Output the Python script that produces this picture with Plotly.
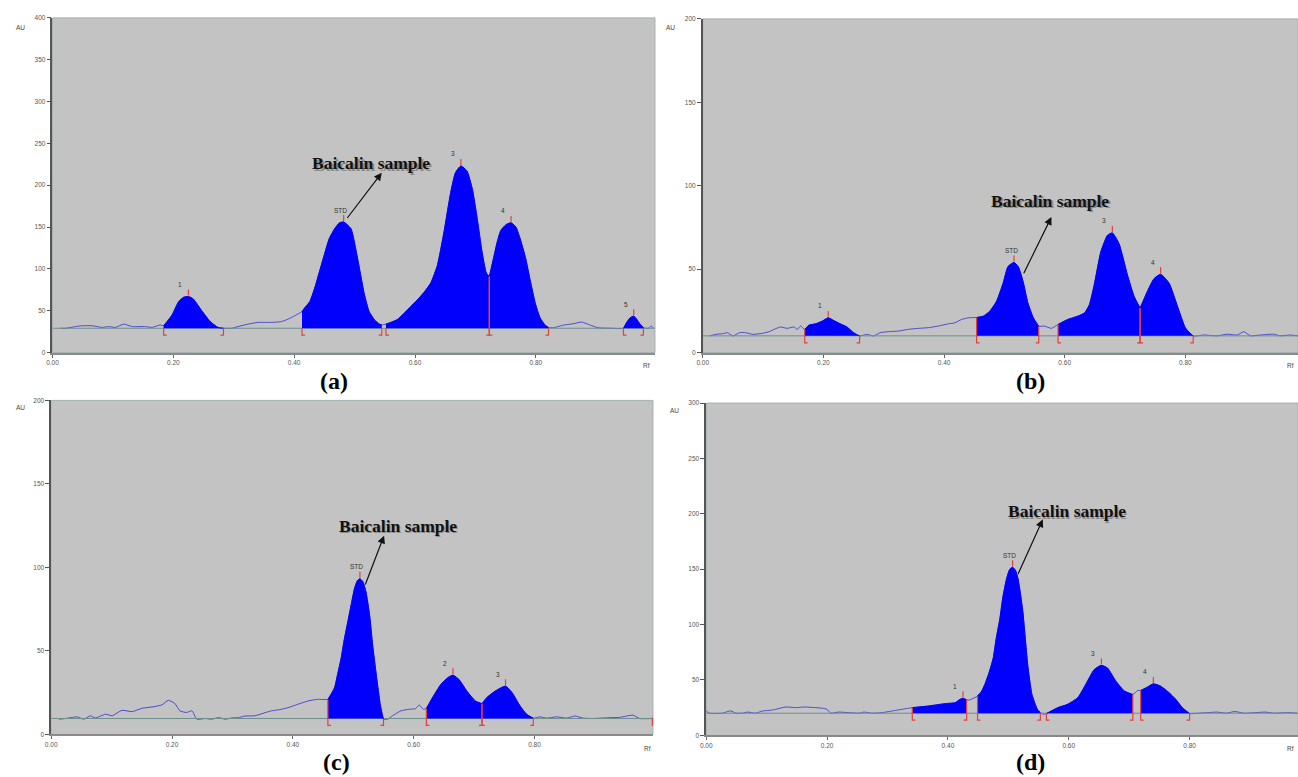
import numpy as np
import plotly.graph_objects as go

# ---------------- data (Rf, AU) ----------------
a_rf = [0.014, 0.022, 0.038, 0.049, 0.066, 0.082, 0.093, 0.104, 0.118, 0.132, 0.154, 0.165, 0.178, 0.184,
        0.198, 0.209, 0.217, 0.225, 0.233, 0.247, 0.261, 0.274, 0.283, 0.297, 0.307, 0.324, 0.340, 0.362,
        0.379, 0.390, 0.401, 0.413, 0.417, 0.426, 0.434, 0.442, 0.450, 0.458, 0.467, 0.475, 0.482, 0.494,
        0.505, 0.516, 0.524, 0.533, 0.541, 0.545, 0.552, 0.560, 0.571, 0.582, 0.593, 0.604, 0.615, 0.626,
        0.637, 0.648, 0.659, 0.667, 0.676, 0.686, 0.695, 0.703, 0.711, 0.718, 0.723, 0.730, 0.736, 0.742,
        0.751, 0.759, 0.767, 0.774, 0.783, 0.791, 0.799, 0.807, 0.815, 0.821, 0.829, 0.846, 0.862, 0.876,
        0.890, 0.903, 0.925, 0.945, 0.950, 0.956, 0.962, 0.966, 0.972, 0.978, 0.986, 0.991, 0.995]
a_au = [29, 29, 31, 32, 32, 30, 31, 30, 34, 31, 31, 30, 33, 32,
        45, 61, 66, 67, 64, 50, 37, 30, 29, 29, 31, 34, 36, 36,
        37, 40, 44, 49, 53, 61, 77, 97, 117, 136, 148, 155, 156, 148,
        112, 70, 49, 39, 34, 33, 34, 36, 39.5, 47, 55, 63, 72, 83,
        104, 144, 191, 215, 223, 217, 195, 160, 120, 95, 91, 113, 132, 146,
        153, 155, 150, 136, 113, 85, 59, 41.5, 33, 30, 29.6, 32.8, 34.4, 36.4,
        32.8, 29.6, 29, 29, 35.5, 41.5, 43.5, 40.7, 34.4, 29.6, 29, 31.6, 29]
a_baseline = 29
a_peak_names = ["1", "STD", "3", "4", "5"]
a_peak_start = [0.184, 0.413, 0.552, 0.723, 0.945]
a_peak_end = [0.283, 0.545, 0.723, 0.821, 0.978]

b_rf = [0.011, 0.022, 0.033, 0.041, 0.050, 0.061, 0.071, 0.083, 0.099, 0.110, 0.121, 0.129, 0.140, 0.151,
        0.157, 0.162, 0.169, 0.176, 0.187, 0.198, 0.208, 0.217, 0.228, 0.239, 0.250, 0.260, 0.272, 0.283,
        0.294, 0.308, 0.325, 0.341, 0.358, 0.374, 0.391, 0.407, 0.418, 0.429, 0.440, 0.454, 0.465, 0.476,
        0.487, 0.498, 0.506, 0.516, 0.523, 0.531, 0.539, 0.548, 0.557, 0.567, 0.578, 0.589, 0.605, 0.622,
        0.633, 0.641, 0.649, 0.660, 0.671, 0.679, 0.690, 0.704, 0.715, 0.725, 0.737, 0.748, 0.759, 0.773,
        0.787, 0.800, 0.813, 0.831, 0.853, 0.869, 0.886, 0.897, 0.908, 0.924, 0.946, 0.957, 0.974, 0.987]
b_au = [9.9, 10.9, 11.3, 11.9, 9.9, 11.9, 11.9, 10.9, 11.5, 12.5, 14.3, 15.3, 14.5, 15.3,
        13.9, 15.9, 13.9, 16.4, 17.2, 18.8, 20.8, 19.2, 17.2, 15.3, 11.9, 9.9, 10.9, 9.9,
        11.9, 12.5, 12.9, 13.9, 14.5, 14.9, 15.9, 17.2, 17.8, 19.8, 20.8, 21.0, 21.8, 24.8,
        30.7, 41.6, 51.5, 54.0, 51.5, 42.6, 29.7, 20.8, 15.8, 15.8, 14.5, 16.8, 19.8, 21.8,
        23.8, 28.7, 40.6, 60.4, 70.3, 71.7, 65.3, 46.5, 33.7, 26.7, 36.6, 44.2, 46.9, 41.6,
        27.7, 14.8, 9.9, 10.5, 10.0, 11.0, 10.5, 12.5, 10.0, 10.5, 11.0, 10.0, 10.5, 10.0]
b_baseline = 10
b_peak_names = ["1", "STD", "3", "4"]
b_peak_start = [0.169, 0.454, 0.589, 0.725]
b_peak_end = [0.260, 0.557, 0.725, 0.813]

c_rf = [0.013, 0.024, 0.035, 0.043, 0.054, 0.065, 0.073, 0.090, 0.101, 0.117, 0.134, 0.150, 0.167, 0.183,
        0.194, 0.205, 0.213, 0.224, 0.233, 0.241, 0.255, 0.266, 0.277, 0.288, 0.299, 0.310, 0.321, 0.337,
        0.354, 0.365, 0.381, 0.392, 0.408, 0.425, 0.441, 0.458, 0.463, 0.469, 0.474, 0.480, 0.485, 0.491,
        0.497, 0.502, 0.507, 0.511, 0.516, 0.521, 0.527, 0.532, 0.538, 0.545, 0.550, 0.557, 0.565, 0.579,
        0.592, 0.603, 0.609, 0.616, 0.621, 0.628, 0.636, 0.645, 0.656, 0.665, 0.675, 0.688, 0.702, 0.713,
        0.721, 0.735, 0.752, 0.763, 0.776, 0.787, 0.798, 0.809, 0.820, 0.837, 0.853, 0.867, 0.881, 0.897,
        0.919, 0.941, 0.963, 0.974, 0.995]
c_au = [9.1, 9.5, 10.1, 10.5, 9.1, 11.1, 9.8, 12.1, 11.1, 14.4, 13.6, 15.6, 16.4, 17.6,
        20.4, 18.4, 14.1, 13.1, 14.1, 9.1, 9.5, 9.1, 10.0, 9.1, 9.8, 10.0, 11.0, 11.1,
        13.0, 14.1, 15.0, 16.0, 18.0, 20.0, 21.0, 21.0, 23.9, 27.9, 35.8, 45.7, 56.6, 67.5,
        78.4, 87.3, 92.2, 93.2, 91.3, 85.3, 71.4, 53.6, 35.8, 17.0, 9.1, 9.1, 11.1, 14.1,
        15.0, 15.4, 17.6, 15.0, 15.6, 20.0, 24.9, 29.9, 33.8, 35.4, 32.8, 25.9, 20.0, 18.4,
        22.0, 25.9, 28.9, 24.9, 17.0, 12.0, 9.7, 10.5, 9.7, 10.5, 9.7, 11.0, 9.7, 9.5,
        9.9, 10.2, 11.5, 9.5, 9.5]
c_baseline = 9.5
c_peak_names = ["STD", "2", "3"]
c_peak_start = [0.458, 0.621, 0.713]
c_peak_end = [0.550, 0.713, 0.798]
c_open_start = [0.995]

d_rf = [0.000, 0.005, 0.027, 0.035, 0.041, 0.049, 0.060, 0.068, 0.082, 0.093, 0.104, 0.115, 0.131, 0.148,
        0.164, 0.181, 0.192, 0.200, 0.206, 0.219, 0.236, 0.252, 0.261, 0.274, 0.291, 0.313, 0.335, 0.341,
        0.368, 0.395, 0.412, 0.420, 0.425, 0.431, 0.436, 0.449, 0.456, 0.461, 0.468, 0.475, 0.480, 0.486,
        0.491, 0.497, 0.502, 0.507, 0.512, 0.516, 0.520, 0.524, 0.528, 0.532, 0.539, 0.548, 0.553, 0.558,
        0.563, 0.582, 0.598, 0.615, 0.628, 0.642, 0.654, 0.664, 0.678, 0.692, 0.706, 0.714, 0.719, 0.730,
        0.740, 0.752, 0.766, 0.777, 0.788, 0.800, 0.815, 0.830, 0.845, 0.860, 0.875, 0.890, 0.910, 0.925,
        0.940, 0.960, 0.978]
d_au = [22, 20, 20, 21.5, 22, 20, 20, 21, 20, 22, 22.5, 23.5, 25.6, 25,
        25.6, 25, 24.5, 23.5, 20, 21, 20.5, 20, 21, 20, 20.5, 22.5, 24.5, 25,
        26.5, 28.6, 29.5, 32.5, 33.5, 32, 32, 35.5, 40, 45.9, 56.4, 69.8, 87.7, 105.5,
        125, 141.3, 149.6, 151.8, 148.8, 141.3, 127.9, 111.5, 87.7, 63.8, 36.9, 23.5, 20.6, 19,
        19.7, 25, 28, 34, 45.9, 59.3, 63.2, 60.8, 48.9, 40, 36.9, 40.5, 40.5, 43.5,
        46.5, 44.4, 38.5, 32.5, 25, 19.7, 20, 20.5, 21, 20, 21.5, 20, 20.5, 21,
        20, 20.5, 20]
d_baseline = 20
d_peak_names = ["1", "STD", "3", "4"]
d_peak_start = [0.341, 0.449, 0.563, 0.719]
d_peak_end = [0.431, 0.553, 0.706, 0.800]

x_tick_vals = [0.0, 0.2, 0.4, 0.6, 0.8]
x_tick_text = ["0.00", "0.20", "0.40", "0.60", "0.80"]
panel_labels = ["(a)", "(b)", "(c)", "(d)"]
note_text = "Baicalin sample"

# ---------------- styling / layout ----------------
W, H = 1298, 777
FILL = "#0000fc"
LINE = "#4a4ad6"
BASE = "#6e8e8e"
RED = "#e4413a"
BG = "#c3c3c3"
SERIF = "Liberation Serif"
SANS = "Liberation Sans"

panels = [
    dict(rf=a_rf, au=a_au, base=a_baseline, names=a_peak_names, starts=a_peak_start, ends=a_peak_end,
         open_starts=[], box=(46.7, 652, 14, 351.7), xmax=0.9972, ymax=400, full=False,
         label_xy=(330, 380), au_xy=(15, 24), rf_xy=(643, 365),
         arrow_tail=(0.486, 159), arrow_head=(0.545, 215), note_xy=(0.528, 226)),
    dict(rf=b_rf, au=b_au, base=b_baseline, names=b_peak_names, starts=b_peak_start, ends=b_peak_end,
         open_starts=[], box=(700, 1298, 15, 351.7), xmax=0.9868, ymax=200, full=True,
         label_xy=(1029, 380), au_xy=(668, 24), rf_xy=(1296, 365),
         arrow_tail=(0.531, 46.6), arrow_head=(0.578, 81.2), note_xy=(0.576, 91)),
    dict(rf=c_rf, au=c_au, base=c_baseline, names=c_peak_names, starts=c_peak_start, ends=c_peak_end,
         open_starts=c_open_start, box=(45.4, 650, 400, 737), xmax=0.9961, ymax=200, full=True,
         label_xy=(332, 765), au_xy=(15, 407), rf_xy=(644, 751),
         arrow_tail=(0.519, 88.9), arrow_head=(0.551, 119), note_xy=(0.574, 124.9)),
    dict(rf=d_rf, au=d_au, base=d_baseline, names=d_peak_names, starts=d_peak_start, ends=d_peak_end,
         open_starts=[], box=(703.5, 1298, 402.7, 738), xmax=0.9794, ymax=300, full=True,
         label_xy=(1029, 765), au_xy=(672, 410), rf_xy=(1296, 751),
         arrow_tail=(0.515, 144.3), arrow_head=(0.557, 195), note_xy=(0.597, 202.4)),
]

fig = go.Figure()
annotations = []
shapes = []
layout_axes = {}

for i, p in enumerate(panels):
    sfx = "" if i == 0 else str(i + 1)
    xa, ya = "x" + sfx, "y" + sfx
    rf = np.array(p["rf"], dtype=float)
    au = np.array(p["au"], dtype=float)
    assert len(rf) == len(au)
    base = p["base"]
    l, r, t, b = p["box"]
    ppr = (r - l) / p["xmax"]      # pixels per Rf unit
    ppa = (b - t) / p["ymax"]      # pixels per AU unit

    def val_at(x):
        return au[int(np.argmin(np.abs(rf - x)))]

    # full densitogram trace
    fig.add_trace(go.Scatter(x=rf, y=au, mode="lines", xaxis=xa, yaxis=ya, hoverinfo="skip",
                             line=dict(color=LINE, width=1, shape="spline", smoothing=0.5)))
    # baseline
    fig.add_trace(go.Scatter(x=[0, p["xmax"]], y=[base, base], mode="lines", xaxis=xa, yaxis=ya,
                             hoverinfo="skip", line=dict(color=BASE, width=1)))
    # integrated peaks
    tops = []
    for s, e in zip(p["starts"], p["ends"]):
        m = (rf >= s - 1e-9) & (rf <= e + 1e-9)
        fig.add_trace(go.Scatter(x=[s, e], y=[base, base], mode="lines", xaxis=xa, yaxis=ya,
                                 hoverinfo="skip", line=dict(width=0, color=FILL)))
        fig.add_trace(go.Scatter(x=rf[m], y=au[m], mode="lines", fill="tonexty", fillcolor=FILL,
                                 xaxis=xa, yaxis=ya, hoverinfo="skip",
                                 line=dict(color=FILL, width=1, shape="spline", smoothing=0.5)))
        k = int(np.argmax(au[m]))
        tops.append((rf[m][k], au[m][k]))

    # red integration marks
    Lm = 7 / ppa
    Fm = 3 / ppr
    mx, my = [], []
    shared = set(p["starts"]) & set(p["ends"])
    for s in p["starts"]:
        top = val_at(s) if (p["full"] or s in shared) else base
        mx += [s, s, s + Fm, None]
        my += [top, base - Lm, base - Lm, None]
    for s in p["open_starts"]:
        mx += [s, s, s + Fm, None]
        my += [base + 1 / ppa, base - Lm, base - Lm, None]
    for e in p["ends"]:
        top = val_at(e) if (p["full"] or e in shared) else base
        mx += [e, e, e - Fm, None]
        my += [top, base - Lm, base - Lm, None]
    for (xt, yt) in tops:
        mx += [xt, xt, None]
        my += [yt + 1 / ppa, yt + 7 / ppa, None]
    fig.add_trace(go.Scatter(x=mx, y=my, mode="lines", xaxis=xa, yaxis=ya, hoverinfo="skip",
                             line=dict(color=RED, width=1.2)))

    # peak labels
    for name, (xt, yt) in zip(p["names"], tops):
        annotations.append(dict(x=xt, y=yt, xref=xa, yref=ya, text=name, showarrow=False,
                                xanchor="center", yanchor="middle",
                                xshift=-3 if name == "STD" else -8, yshift=12,
                                font=dict(size=6.5, color="#333", family=SANS)))

    # Baicalin sample note with arrow (shadow + text)
    nx, ny = p["note_xy"]
    annotations.append(dict(x=nx, y=ny, xref=xa, yref=ya, text="<b>%s</b>" % note_text, showarrow=False,
                            xanchor="center", yanchor="middle", xshift=1.5, yshift=-1.5,
                            font=dict(size=17.5, color="rgba(90,90,90,0.55)", family=SERIF)))
    annotations.append(dict(x=nx, y=ny, xref=xa, yref=ya, text="<b>%s</b>" % note_text, showarrow=False,
                            xanchor="center", yanchor="middle",
                            font=dict(size=17.5, color="#111", family=SERIF)))
    hx, hy = p["arrow_head"]
    tx, ty = p["arrow_tail"]
    annotations.append(dict(x=hx, y=hy, xref=xa, yref=ya, ax=tx, ay=ty, axref=xa, ayref=ya,
                            text="", showarrow=True, arrowhead=2, arrowsize=1.3, arrowwidth=1.2,
                            arrowcolor="#111", standoff=0, startstandoff=0))

    # panel letter, AU and Rf labels
    lx, ly = p["label_xy"]
    annotations.append(dict(x=lx / W, y=1 - ly / H, xref="paper", yref="paper", showarrow=False,
                            xanchor="center", yanchor="middle",
                            text="<b>%s</b>" % panel_labels[i],
                            font=dict(size=24, color="#000", family=SERIF)))
    ux, uy = p["au_xy"]
    annotations.append(dict(x=ux / W, y=1 - uy / H, xref="paper", yref="paper", showarrow=False,
                            xanchor="center", yanchor="middle",
                            text="AU", font=dict(size=6.5, color="#444", family=SANS)))
    rx, ry = p["rf_xy"]
    annotations.append(dict(x=rx / W, y=1 - ry / H, xref="paper", yref="paper", showarrow=False,
                            text="Rf", xanchor="center" if rx < 1200 else "right", yanchor="middle",
                            font=dict(size=6.5, color="#444", family=SANS)))

    # frame around the plotting area
    shapes.append(dict(type="rect", xref=xa + " domain", yref=ya + " domain", x0=0, x1=1, y0=0, y1=1,
                       line=dict(color="#a6b2b2", width=1), layer="below"))

    layout_axes["xaxis" + sfx] = dict(
        domain=[l / W, min(r / W, 1.0)], range=[0, p["xmax"]], anchor=ya,
        tickvals=x_tick_vals, ticktext=x_tick_text, ticks="outside", ticklen=3, tickwidth=1,
        tickcolor="#666", showline=True, linecolor="#8a8a8a", linewidth=2, showgrid=False,
        zeroline=False, fixedrange=True, tickfont=dict(size=6.5, color="#555", family=SANS))
    layout_axes["yaxis" + sfx] = dict(
        domain=[1 - b / H, 1 - t / H], range=[0, p["ymax"]], anchor=xa,
        tickvals=list(range(0, p["ymax"] + 1, 50)), ticks="outside", ticklen=4, tickwidth=1,
        tickcolor="#555", showline=True, linecolor="#555", linewidth=1.5, showgrid=False,
        zeroline=False, fixedrange=True, tickfont=dict(size=6.5, color="#555", family=SANS))

fig.update_layout(width=W, height=H, margin=dict(l=0, r=0, t=0, b=0), autosize=False,
                  paper_bgcolor="white", plot_bgcolor=BG, showlegend=False, hovermode=False,
                  annotations=annotations, shapes=shapes, **layout_axes)

fig.write_html("out.html")
